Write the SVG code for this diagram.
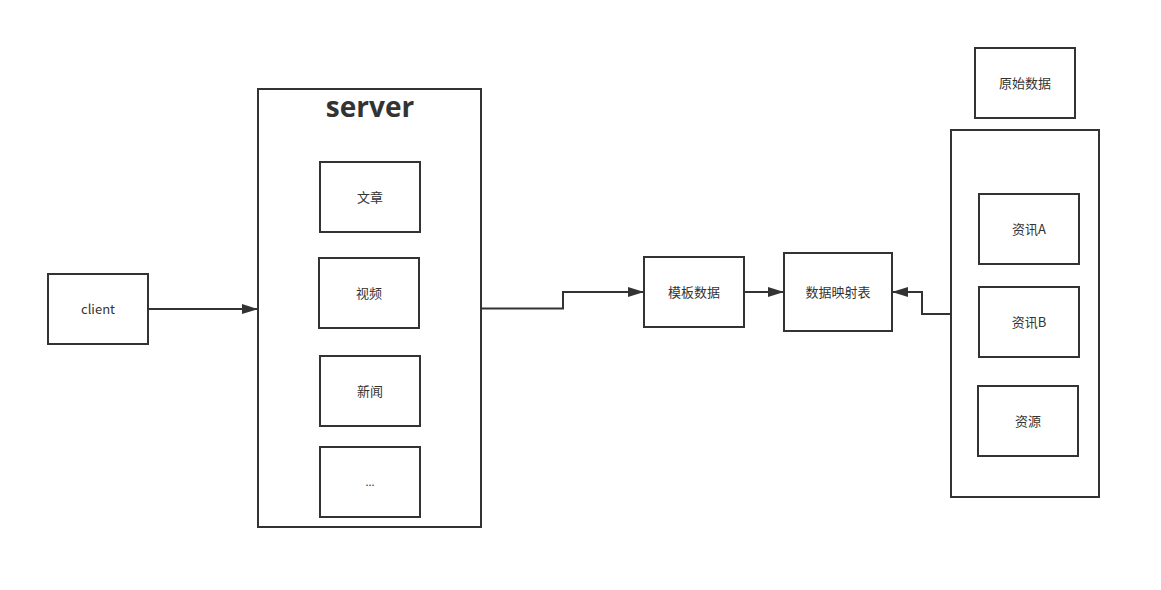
<svg xmlns="http://www.w3.org/2000/svg" width="1161" height="590" viewBox="0 0 1161 590">
<defs>
<style>
.box{fill:#fff;stroke:#333;stroke-width:2}
.t{font-family:"Noto Sans CJK SC","Liberation Sans",sans-serif;font-size:13px;fill:#333;text-anchor:middle;dominant-baseline:central}
.title{font-family:"Open Sans","Liberation Sans",sans-serif;font-size:28px;font-weight:bold;fill:#333;text-anchor:middle}
.c{fill:none;stroke:#333;stroke-width:2}
</style>
<marker id="arr" viewBox="0 0 16 10" refX="15" refY="5" markerWidth="16" markerHeight="10" markerUnits="userSpaceOnUse" orient="auto">
<path d="M0,0 L16,5 L0,10 Z" fill="#333"/>
</marker>
</defs>
<rect width="1161" height="590" fill="#fff"/>
<g id="client"><rect class="box" x="48" y="274" width="100" height="70"/><text class="t" x="98" y="308">client</text></g>
<g id="server"><rect class="box" x="258" y="89" width="223" height="438"/><text class="title" x="370" y="117">server</text></g>
<g id="wenzhang"><rect class="box" x="320" y="162" width="100" height="70"/><text class="t" x="370" y="196">文章</text></g>
<g id="shipin"><rect class="box" x="319" y="258" width="100" height="70"/><text class="t" x="369" y="292">视频</text></g>
<g id="xinwen"><rect class="box" x="320" y="356" width="100" height="70"/><text class="t" x="370" y="390">新闻</text></g>
<g id="more"><rect class="box" x="320" y="447" width="100" height="70"/><text class="t" x="370" y="481" style="font-size:11px">...</text></g>
<g id="muban"><rect class="box" x="644" y="257" width="100" height="70"/><text class="t" x="694" y="291">模板数据</text></g>
<g id="yingshe"><rect class="box" x="784" y="253" width="108" height="78"/><text class="t" x="838" y="291">数据映射表</text></g>
<g id="yuanshi"><rect class="box" x="975" y="48" width="100" height="70"/><text class="t" x="1025" y="82">原始数据</text></g>
<g id="source"><rect class="box" x="951" y="130" width="148" height="367"/></g>
<g id="zixunA"><rect class="box" x="979" y="194" width="100" height="70"/><text class="t" x="1029" y="228">资讯A</text></g>
<g id="zixunB"><rect class="box" x="979" y="287" width="100" height="70"/><text class="t" x="1029" y="321">资讯B</text></g>
<g id="ziyuan"><rect class="box" x="978" y="386" width="100" height="70"/><text class="t" x="1028" y="420">资源</text></g>
<g id="connectors">
<path class="c" d="M148,309 L257,309" marker-end="url(#arr)"/>
<path class="c" d="M481,308.5 L563,308.5 L563,292 L643,292" marker-end="url(#arr)"/>
<path class="c" d="M744,292 L783,292" marker-end="url(#arr)"/>
<path class="c" d="M951,314 L922,314 L922,292 L893,292" marker-end="url(#arr)"/>
</g>
</svg>
